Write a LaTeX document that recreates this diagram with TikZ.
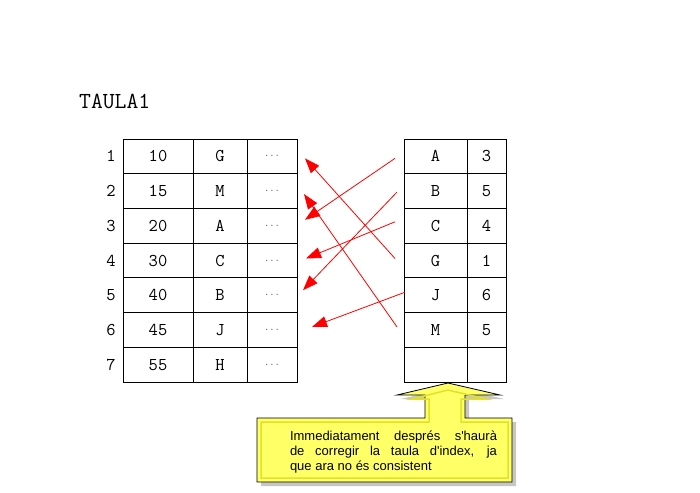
\documentclass[tikz,border=0pt]{standalone}
\usepackage{fontspec}
\newfontfamily\notefont{Liberation Sans}
\usetikzlibrary{arrows.meta,positioning,calc}
\definecolor{noteyellow}{RGB}{255,255,102}
\definecolor{noteedge}{RGB}{225,225,40}

\begin{document}
\begin{tikzpicture}[x=1pt,y=-1pt,>={Triangle[length=15pt,width=11pt]},
cell/.style={draw,line width=0.8pt,minimum height=34.71pt,inner sep=0pt,outer sep=0pt,font=\ttfamily\fontsize{18}{20}\selectfont},
lbl/.style={inner sep=0pt,font=\ttfamily\fontsize{18}{20}\selectfont},
arr/.style={->,red,line width=0.8pt}]
\useasboundingbox (0,0) rectangle (700,492);
\node[lbl,anchor=west,font=\ttfamily\fontsize{23}{26}\selectfont] (title) at (79,101) {TAULA1};
% data table
\foreach \i/\a/\b in {1/10/G,2/15/M,3/20/A,4/30/C,5/40/B,6/45/J,7/55/H}{
  \node[cell,minimum width=70pt] (num\i) at (158,{139+34.714*(\i-0.5)}) {\a};
  \node[cell,minimum width=54pt,right=0pt of num\i] (key\i) {\b};
  \node[cell,minimum width=50pt,right=0pt of key\i] (dat\i) {\fontsize{10}{11}\selectfont\color{black!65}...};
  \node[lbl] (row\i) at (111,{139+34.714*(\i-0.5)}) {\i};
}
% index table
\foreach \i/\a/\b in {1/A/3,2/B/5,3/C/4,4/G/1,5/J/6,6/M/5,7/{}/{}}{
  \node[cell,minimum width=63pt] (ikey\i) at (435.5,{139+34.714*(\i-0.5)}) {\a};
  \node[cell,minimum width=39pt,right=0pt of ikey\i] (iptr\i) {\b};
}
\draw[arr] ([xshift=-9pt,yshift=-2pt]ikey1.west) -- ([xshift=8pt,yshift=6pt]dat3.east);
\draw[arr] ([xshift=-7pt,yshift=-1pt]ikey2.west) -- ([xshift=6pt,yshift=5pt]dat5.east);
\draw[arr] ([xshift=-9pt,yshift=4pt]ikey3.west) -- ([xshift=9pt,yshift=2pt]dat4.east);
\draw[arr] ([xshift=-9pt,yshift=2pt]ikey4.west) -- ([xshift=8pt,yshift=-2pt]dat1.east);
\draw[arr] ([xshift=1pt,yshift=3pt]ikey5.west) -- ([xshift=15pt,yshift=3pt]dat6.east);
\draw[arr] ([xshift=-7pt,yshift=3pt]ikey6.west) -- ([xshift=7pt,yshift=-3pt]dat2.east);
% callout
\fill[gray!45] (261,422) -- (429,422) -- (429,399) -- (401,399) -- (452,387) -- (504,399)
  -- (469,399) -- (469,422) -- (516,422) -- (516,486) -- (261,486) -- cycle;
\draw[fill=noteyellow,line width=0.8pt] (257,418) -- (425,418) -- (425,395) -- (397,395) -- (448,383)
  -- (500,395) -- (465,395) -- (465,418) -- (512,418) -- (512,482) -- (257,482) -- cycle;
\draw[noteedge,line width=1.5pt] (261,422) -- (429,422) -- (429,399) -- (412,399) -- (448,390)
  -- (486,399) -- (461,399) -- (461,422) -- (508,422) -- (508,478) -- (261,478) -- cycle;
\node[text width=207pt,align=justify,inner sep=0pt,font=\notefont\fontsize{13}{15}\selectfont] (note) at (393.5,452)
  {Immediatament després s'haurà\linebreak de corregir la taula d'index, ja\linebreak que ara no és consistent};
\end{tikzpicture}
\end{document}
